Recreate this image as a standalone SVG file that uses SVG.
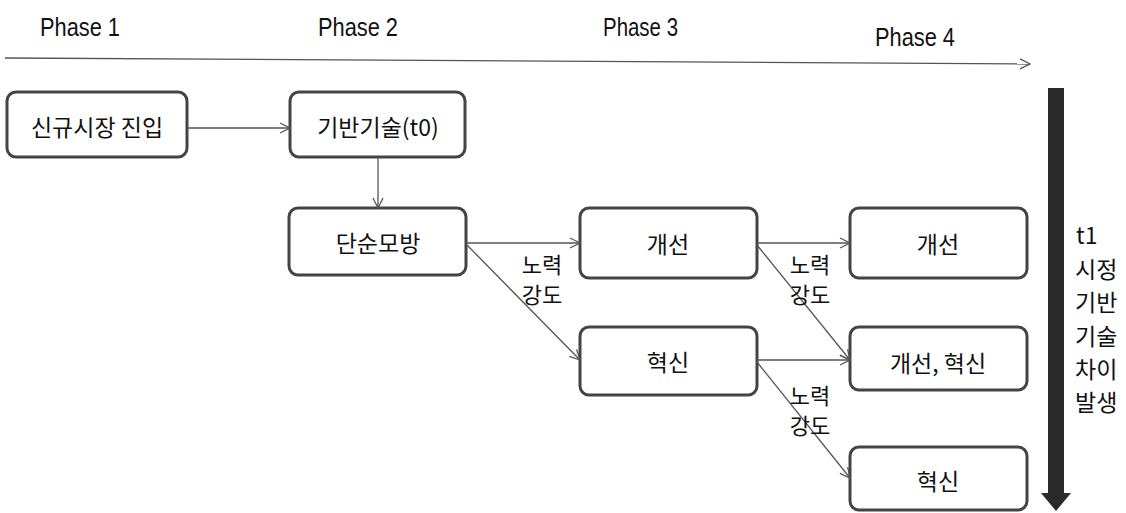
<svg xmlns="http://www.w3.org/2000/svg" width="1126" height="513" viewBox="0 0 1126 513">
<style>
.box{fill:#fff;stroke:#444;stroke-width:3}
.lbl{font-family:"Noto Sans CJK KR","Liberation Sans",sans-serif;font-size:23px;fill:#111;text-anchor:middle;dominant-baseline:central}
.eff{font-family:"Noto Sans CJK KR","Liberation Sans",sans-serif;font-size:22px;fill:#111;text-anchor:middle}
.ph{font-family:"Liberation Sans","Noto Sans",sans-serif;font-size:26px;fill:#111}
.ln{stroke:#555;stroke-width:1.3;fill:none}
.side{font-family:"Noto Sans CJK KR",sans-serif;font-size:23px;fill:#111}
</style>
<defs>
<marker id="ah" viewBox="0 0 12 12" refX="11" refY="6" markerWidth="12" markerHeight="12" markerUnits="userSpaceOnUse" orient="auto">
<path d="M1,1 L11,6 L1,11" fill="none" stroke="#555" stroke-width="1.3"/>
</marker>
</defs>
<g id="phases">
<text class="ph" x="40" y="36" textLength="80" lengthAdjust="spacingAndGlyphs">Phase 1</text>
<text class="ph" x="318" y="36" textLength="80" lengthAdjust="spacingAndGlyphs">Phase 2</text>
<text class="ph" x="603" y="36" textLength="75" lengthAdjust="spacingAndGlyphs">Phase 3</text>
<text class="ph" x="875" y="46" textLength="80" lengthAdjust="spacingAndGlyphs">Phase 4</text>
</g>
<g id="timeline">
<line class="ln" x1="5" y1="58" x2="1030" y2="64" marker-end="url(#ah)"/>
</g>
<g id="nodeA"><rect class="box" x="7" y="92" width="180" height="65" rx="9"/><text class="lbl" x="97" y="126">신규시장 진입</text></g>
<g id="nodeB"><rect class="box" x="290" y="92" width="175" height="65" rx="9"/><text class="lbl" x="378" y="126">기반기술(t0)</text></g>
<g id="nodeC"><rect class="box" x="289" y="208" width="177" height="67" rx="9"/><text class="lbl" x="378" y="242">단순모방</text></g>
<g id="nodeD"><rect class="box" x="580" y="208" width="177" height="70" rx="9"/><text class="lbl" x="668" y="243">개선</text></g>
<g id="nodeE"><rect class="box" x="580" y="327" width="177" height="68" rx="9"/><text class="lbl" x="668" y="361">혁신</text></g>
<g id="nodeF"><rect class="box" x="850" y="208" width="177" height="70" rx="9"/><text class="lbl" x="938" y="243">개선</text></g>
<g id="nodeG"><rect class="box" x="850" y="327" width="177" height="63" rx="9"/><text class="lbl" x="938" y="362">개선, 혁신</text></g>
<g id="nodeH"><rect class="box" x="850" y="447" width="177" height="63" rx="9"/><text class="lbl" x="938" y="480">혁신</text></g>
<g id="connectors">
<line class="ln" x1="187" y1="128" x2="290" y2="128" marker-end="url(#ah)"/>
<line class="ln" x1="378" y1="157" x2="378" y2="208" marker-end="url(#ah)"/>
<line class="ln" x1="466" y1="243" x2="580" y2="243" marker-end="url(#ah)"/>
<line class="ln" x1="467" y1="245" x2="580" y2="360" marker-end="url(#ah)"/>
<line class="ln" x1="757" y1="243" x2="850" y2="243" marker-end="url(#ah)"/>
<line class="ln" x1="757" y1="245" x2="850" y2="360" marker-end="url(#ah)"/>
<line class="ln" x1="757" y1="360" x2="850" y2="360" marker-end="url(#ah)"/>
<line class="ln" x1="757" y1="362" x2="850" y2="478" marker-end="url(#ah)"/>
</g>
<g id="labels">
<text class="eff" x="542" y="273"><tspan x="542">노력</tspan><tspan x="542" dy="30">강도</tspan></text>
<text class="eff" x="810" y="273"><tspan x="810">노력</tspan><tspan x="810" dy="30">강도</tspan></text>
<text class="eff" x="810" y="404"><tspan x="810">노력</tspan><tspan x="810" dy="30">강도</tspan></text>
</g>
<g id="bigArrow">
<rect x="1048" y="88" width="16" height="406" fill="#2a2a2a"/>
<polygon points="1041,493 1071,493 1056,511" fill="#2a2a2a"/>
</g>
<g id="sideText">
<text class="side" x="1076" y="244" font-family="Liberation Serif,serif">t1</text>
<text class="side" x="1075" y="278"><tspan x="1075">시정</tspan><tspan x="1075" dy="33.3">기반</tspan><tspan x="1075" dy="33.3">기술</tspan><tspan x="1075" dy="33.3">차이</tspan><tspan x="1075" dy="33.3">발생</tspan></text>
</g>
</svg>
